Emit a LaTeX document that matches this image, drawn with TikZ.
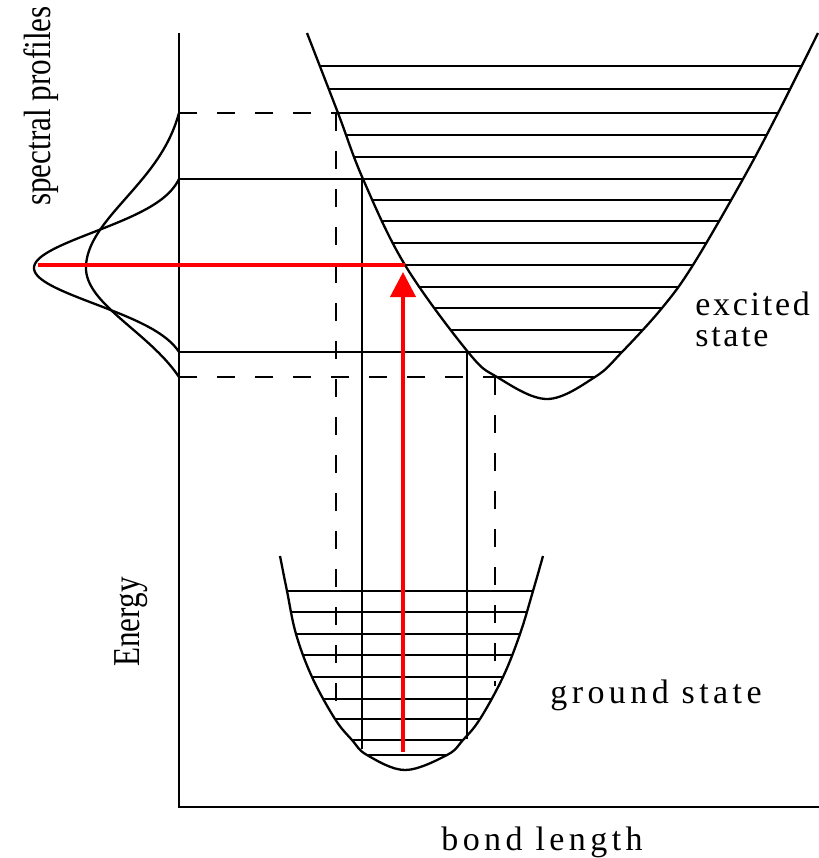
\documentclass[tikz,border=0pt]{standalone}
\usepackage{fontspec}
\setmainfont{Liberation Serif}
\newfontfamily\labfont[LetterSpace=13]{Liberation Serif}
\newfontfamily\labfontb[LetterSpace=8]{Liberation Serif}
\newfontfamily\condfont[FakeStretch=0.82]{Liberation Serif}
\usetikzlibrary{arrows.meta}
\begin{document}
\begin{tikzpicture}[x=0.5pt,y=-0.5pt,
  ln/.style={line width=1.15pt},
  dsh/.style={line width=1.15pt, dash pattern=on 9pt off 10pt},
  lvl/.style={line width=1.05pt},
  redl/.style={draw=red, line width=2pt},
  lab/.style={font=\labfont\fontsize{17}{15}\selectfont, inner sep=0pt},
  labb/.style={font=\labfontb\fontsize{17}{15.5}\selectfont, inner sep=0pt},
  vlab/.style={font=\condfont\fontsize{19}{22}\selectfont, inner sep=0pt, rotate=90, anchor=base}]
\useasboundingbox (0,0) rectangle (819,858);

% axes
\coordinate (ytop) at (179,33);
\coordinate (origin) at (179,807);
\coordinate (xend) at (819,807);
\draw[line width=1.25pt] (ytop) -- (origin) -- (xend);

% excited state curve and levels
\draw[ln] plot[smooth,tension=0.6] coordinates {(307,33) (338,113) (363,179) (405,265) (468,352) (497,377) (547,399) (595,377) (622,352) (662,308) (693,265) (743,179) (778,113) (818,33)};
\begin{scope}
\clip plot[smooth,tension=0.6] coordinates {(307,33) (338,113) (363,179) (405,265) (468,352) (497,377) (547,399) (595,377) (622,352) (662,308) (693,265) (743,179) (778,113) (818,33)} -- cycle;
\foreach \yy in {66,89,113,135,157,179,200,221,243,265,287,308,330,352,377}
  \draw[lvl] (290,\yy) -- (830,\yy);
\end{scope}

% ground state curve and levels
\draw[ln] plot[smooth,tension=0.6] coordinates {(280,556) (287,591) (296,634) (312,677) (335,719) (352,740) (367,755) (405,770) (447,755) (463,740) (480,719) (503,677) (520,634) (533,591) (543,556)};
\begin{scope}
\clip plot[smooth,tension=0.6] coordinates {(280,556) (287,591) (296,634) (312,677) (335,719) (352,740) (367,755) (405,770) (447,755) (463,740) (480,719) (503,677) (520,634) (533,591) (543,556)} -- cycle;
\foreach \yy in {591,612,634,655,677,699,719,740,755}
  \draw[lvl] (270,\yy) -- (560,\yy);
\end{scope}

% projection lines
\coordinate (aA) at (179,113); \coordinate (tA) at (338,113); \coordinate (uA) at (336,113); \coordinate (bA) at (336,701);
\coordinate (aB) at (179,179); \coordinate (tB) at (362,179); \coordinate (bB) at (362,749);
\coordinate (aC) at (179,352); \coordinate (tC) at (467,352); \coordinate (bC) at (467,739);
\coordinate (aD) at (179,377); \coordinate (tD) at (497,377); \coordinate (uD) at (495,377); \coordinate (bD) at (495,686);
\draw[dsh] (aA) -- (tA);
\draw[dsh] (uA) -- (bA);
\draw[ln] (aB) -- (tB) -- (bB);
\draw[ln] (aC) -- (tC) -- (bC);
\draw[dsh] (aD) -- (tD);
\draw[dsh] (uD) -- (bD);

% spectral profiles
\draw[ln] plot[domain=113:268,samples=60,variable=\t] ({179-93*(exp(-0.5*((\t-268)/70)^2)-0.086)/0.914},\t);
\draw[ln] plot[domain=268:377,samples=50,variable=\t] ({179-93*(exp(-0.5*((\t-268)/60)^2)-0.192)/0.808},\t);
\draw[ln] plot[domain=179:268,samples=50,variable=\t] ({179-145*(exp(-0.5*((\t-268)/36)^2)-0.047)/0.953},\t);
\draw[ln] plot[domain=268:352,samples=50,variable=\t] ({179-145*(exp(-0.5*((\t-268)/36)^2)-0.066)/0.934},\t);

% labels
\node[vlab] (spec) at (50,106) {spectral profiles};
\node[vlab] (energy) at (139,622) {Energy};
\node[labb, anchor=base west, align=left] (exc) at (695,346) {excited\\state};
\node[lab, anchor=base west] (gnd) at (550,703) {ground state};
\node[lab, anchor=base west] (bond) at (441,850) {bond length};

% red transition
\coordinate (peak) at (38,265); \coordinate (hit) at (405,265);
\coordinate (v0) at (403,752); \coordinate (v1) at (403,272);
\draw[redl] (peak) -- (hit);
\draw[redl, -{Triangle[width=12.5pt,length=12.5pt]}] (v0) -- (v1);
\end{tikzpicture}
\end{document}
